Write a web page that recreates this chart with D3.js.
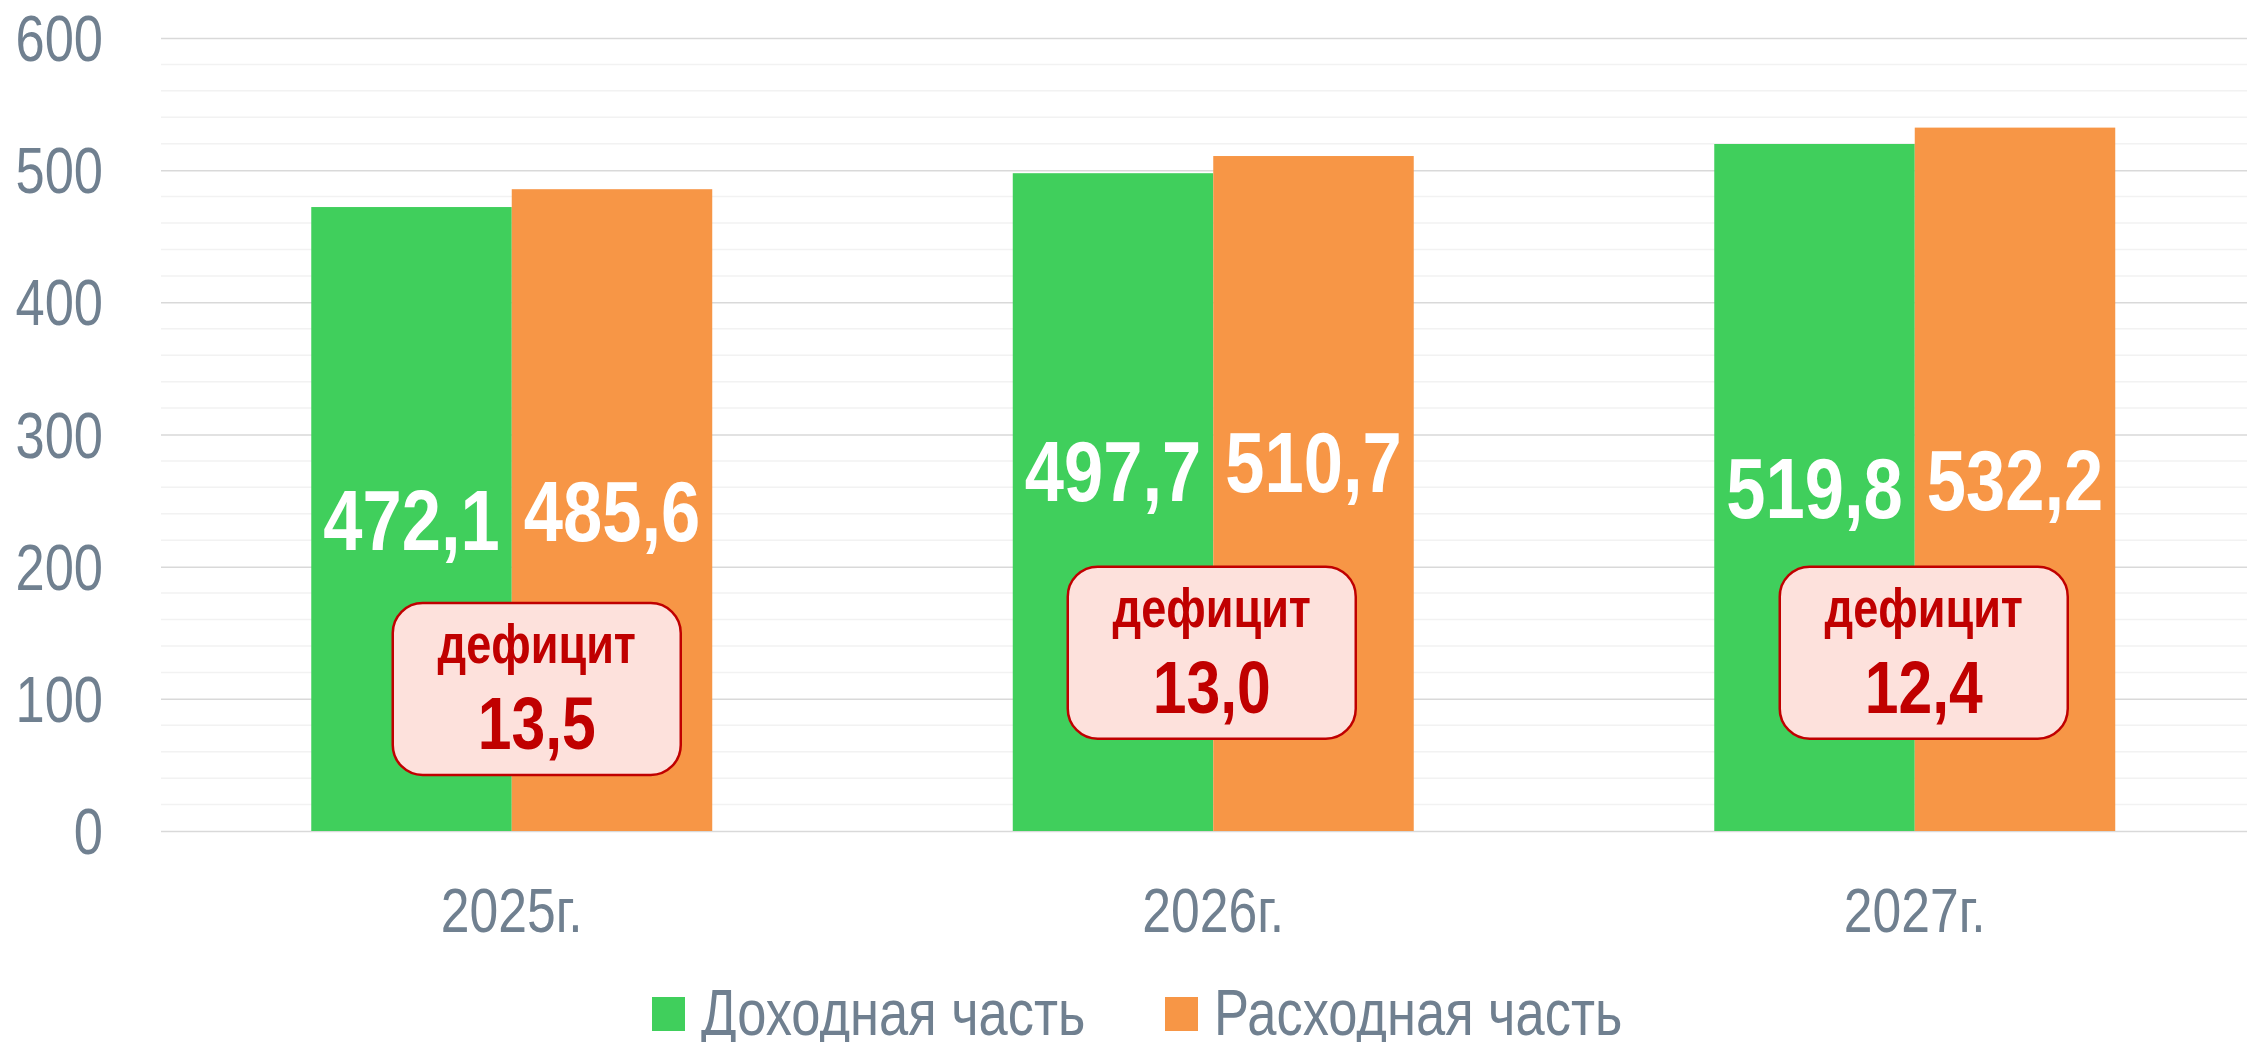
<!DOCTYPE html>
<html>
<head>
<meta charset="utf-8">
<script src="https://cdn.jsdelivr.net/npm/d3@7"></script>
<style>
  html, body { margin: 0; padding: 0; background: #fff; }
  svg { display: block; }
  text { font-family: "Liberation Sans", Arial, sans-serif; }
</style>
</head>
<body>
<svg id="chart" width="2247" height="1042"></svg>
<script>
// values, млрд руб.
const years = ['2025г.', '2026г.', '2027г.']
const seriesNames = ['Доходная часть', 'Расходная часть']
const income = [472.1, 497.7, 519.8]
const expense = [485.6, 510.7, 532.2]
const deficit = [13.5, 13.0, 12.4]
const yTicks = [0, 100, 200, 300, 400, 500, 600]

const colors = ['#40cf5c', '#f79646']
const axisColor = '#708090'
const red = '#c00000'

const plot = { left: 161, right: 2265.5, top: 38, bottom: 831 }

// no Arial Narrow here, so squeeze Liberation Sans instead
const NARROW = 0.82
const at = (x, yy) => `translate(${x},${yy}) scale(${NARROW},1)`

// the label of 510,7 sits a bit higher in the original
const labelNudge = [[0, 0], [0, -32], [0, 0]]
// deficit boxes: horizontal shift from the year centre and top edge (in axis units)
const boxPlace = [{ dx: 25, top: 172.5 }, { dx: -1.5, top: 200 }, { dx: 9, top: 200 }]
const boxW = 288
const boxH = 172

const fmt = v => d3.format('.1f')(v).replace('.', ',')

const svg = d3.select('#chart')

const y = d3.scaleLinear().domain([0, 600]).range([plot.bottom, plot.top])

const x0 = d3.scaleBand()
  .domain(years)
  .range([plot.left, plot.right])
  .paddingInner(0.4284)
  .paddingOuter(0.2142)

const x1 = d3.scaleBand()
  .domain(seriesNames)
  .range([0, x0.bandwidth()])

// minor grid
svg.append('g')
  .selectAll('line')
  .data(d3.range(0, 601, 20).filter(v => v % 100 !== 0))
  .enter()
  .append('line')
  .attr('x1', plot.left)
  .attr('x2', plot.right)
  .attr('y1', d => y(d))
  .attr('y2', d => y(d))
  .attr('stroke', '#f2f2f2')
  .attr('stroke-width', 1.5)

// major grid
const yAxis = svg.append('g')
  .attr('transform', `translate(${plot.left},0)`)
  .call(d3.axisLeft(y).tickValues(yTicks).tickSize(-(plot.right - plot.left)).tickFormat(''))

yAxis.select('.domain').remove()
yAxis.selectAll('.tick line')
  .attr('stroke', '#d9d9d9')
  .attr('stroke-width', 1.5)

// y labels
svg.append('g')
  .selectAll('text')
  .data(yTicks)
  .enter()
  .append('text')
  .attr('transform', d => at(103, y(d)))
  .attr('dy', '0.36em')
  .attr('text-anchor', 'end')
  .attr('fill', axisColor)
  .attr('font-size', 64)
  .text(d => d)

// bars
const rows = years.map((yr, i) => ({ year: yr, i, values: [income[i], expense[i]] }))

const groups = svg.append('g')
  .selectAll('g')
  .data(rows)
  .enter()
  .append('g')
  .attr('transform', d => `translate(${x0(d.year)},0)`)

groups.selectAll('rect')
  .data(d => d.values.map((v, k) => ({ v, k, i: d.i })))
  .enter()
  .append('rect')
  .attr('x', d => x1(seriesNames[d.k]))
  .attr('y', d => y(d.v))
  .attr('width', x1.bandwidth())
  .attr('height', d => y(0) - y(d.v))
  .attr('fill', d => colors[d.k])

groups.selectAll('text.val')
  .data(d => d.values.map((v, k) => ({ v, k, i: d.i })))
  .enter()
  .append('text')
  .attr('class', 'val')
  .attr('transform', d => at(
    x1(seriesNames[d.k]) + x1.bandwidth() / 2 + labelNudge[d.i][0],
    (y(d.v) + y(0)) / 2 + labelNudge[d.i][1]))
  .attr('dy', '0.36em')
  .attr('text-anchor', 'middle')
  .attr('fill', '#fff')
  .attr('font-weight', 'bold')
  .attr('font-size', 86)
  .text(d => fmt(d.v))

// x labels
svg.append('g')
  .selectAll('text')
  .data(years)
  .enter()
  .append('text')
  .attr('transform', d => at(x0(d) + x0.bandwidth() / 2, 932))
  .attr('text-anchor', 'middle')
  .attr('fill', axisColor)
  .attr('font-size', 63)
  .text(d => d)

// deficit callouts
const boxes = svg.append('g')
  .selectAll('g')
  .data(deficit.map((v, i) => ({ v, i })))
  .enter()
  .append('g')
  .attr('transform', d => {
    const cx = x0(years[d.i]) + x0.bandwidth() / 2 + boxPlace[d.i].dx
    return `translate(${cx - boxW / 2},${y(boxPlace[d.i].top)})`
  })

boxes.append('rect')
  .attr('width', boxW)
  .attr('height', boxH)
  .attr('rx', 30)
  .attr('ry', 30)
  .attr('fill', '#fde1dc')
  .attr('stroke', red)
  .attr('stroke-width', 2.5)

boxes.append('text')
  .attr('transform', at(boxW / 2, 60))
  .attr('text-anchor', 'middle')
  .attr('fill', red)
  .attr('font-weight', 'bold')
  .attr('font-size', 55)
  .text('дефицит')

boxes.append('text')
  .attr('transform', at(boxW / 2, 146))
  .attr('text-anchor', 'middle')
  .attr('fill', red)
  .attr('font-weight', 'bold')
  .attr('font-size', 74)
  .text(d => fmt(d.v))

// legend
const legendX = [652, 1165]
const legend = svg.append('g')
  .selectAll('g')
  .data(seriesNames)
  .enter()
  .append('g')
  .attr('transform', (d, i) => `translate(${legendX[i]},997)`)

legend.append('rect')
  .attr('width', 33)
  .attr('height', 34)
  .attr('fill', (d, i) => colors[i])

legend.append('text')
  .attr('transform', at(49, 38))
  .attr('fill', axisColor)
  .attr('font-size', 64)
  .text(d => d)
</script>
</body>
</html>
